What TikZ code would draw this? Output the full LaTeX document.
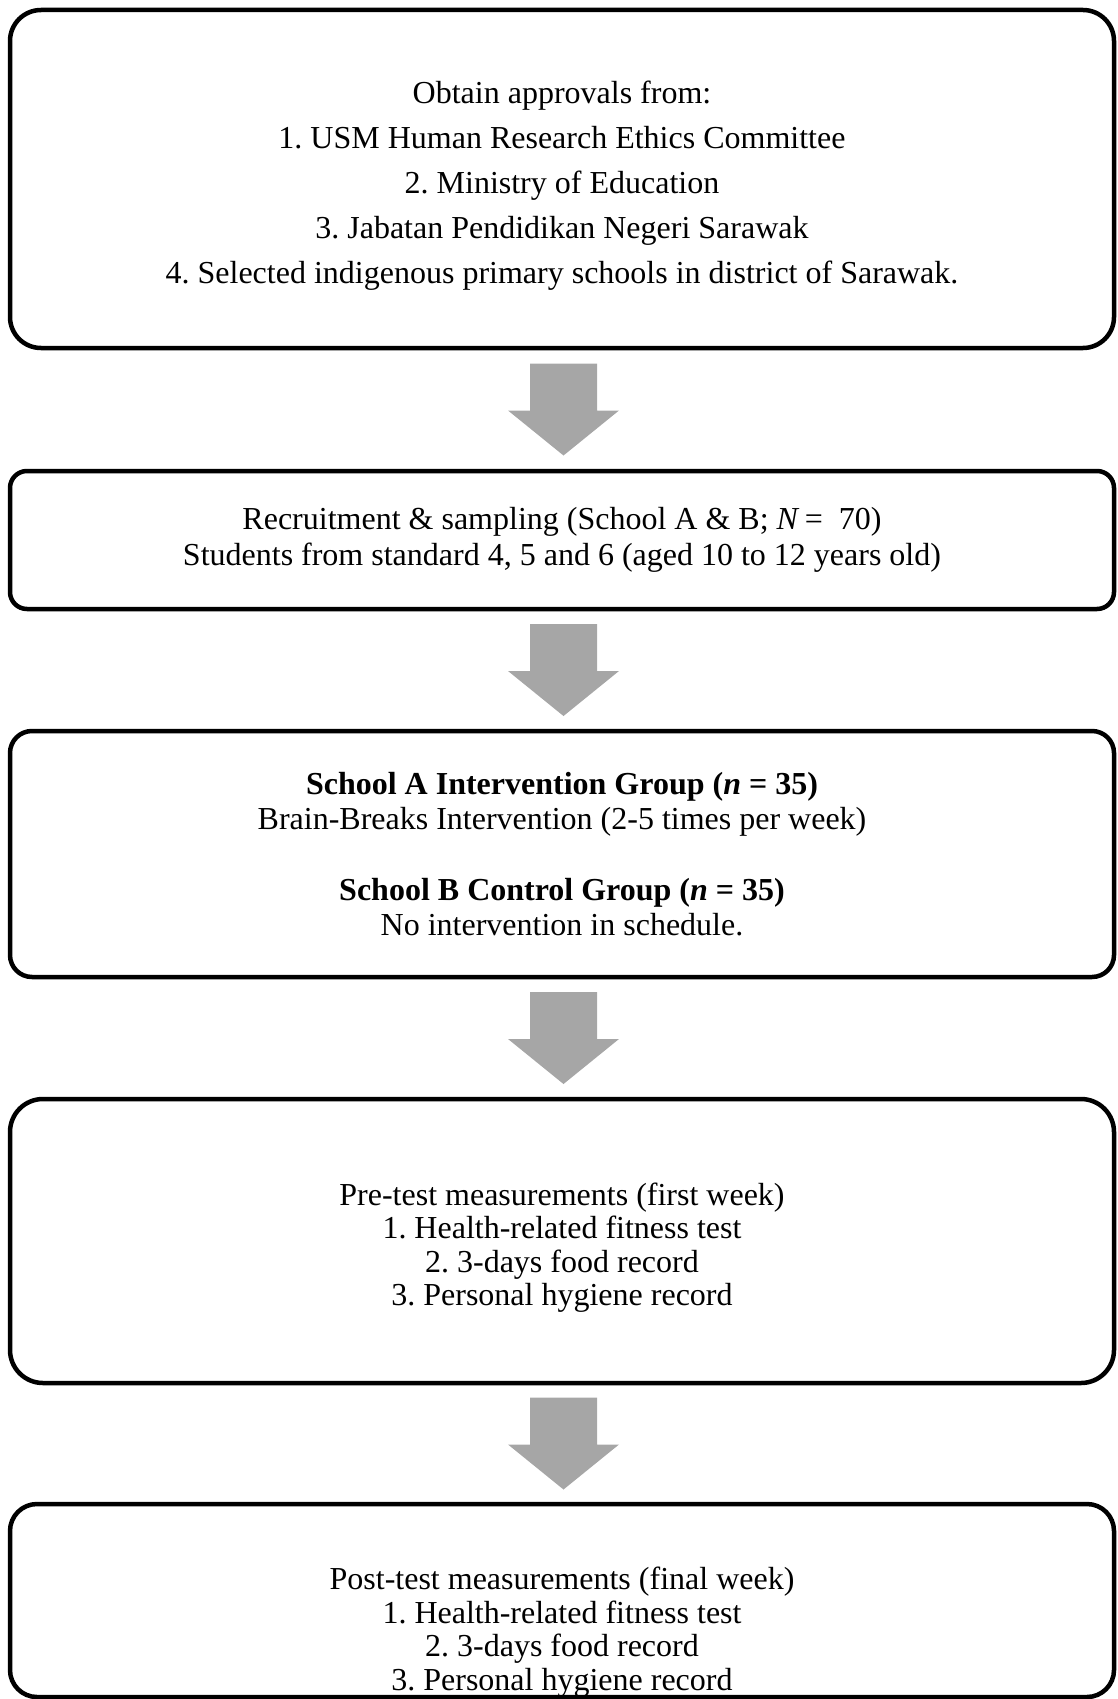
\documentclass[tikz,border=0pt]{standalone}
\usepackage{fontspec}
\setmainfont{Liberation Serif}
\frenchspacing
\usetikzlibrary{positioning,calc}

\begin{document}
\begin{tikzpicture}[x=1pt,y=-1pt]

\tikzset{
    stagebox/.style={draw, line width=4.5pt, inner sep=0pt, outer sep=0pt, align=center,
        minimum width=1104pt, font={\fontsize{32}{35.5}\selectfont}},
    bigarrow/.style={fill=black!35}
}
\useasboundingbox (0,0) rectangle (1117,1699);
\node[stagebox, rounded corners=31pt, minimum height=338pt, font={\fontsize{32}{45}\selectfont}] (approvals) at (562,179)
    {\rule{0pt}{35pt}Obtain approvals from:\\ 1. USM Human Research Ethics Committee\\ 2. Ministry of Education\\
     3. Jabatan Pendidikan Negeri Sarawak\\ 4. Selected indigenous primary schools in district of Sarawak.};
\node[stagebox, rounded corners=17pt, minimum height=138pt, below=123pt of approvals] (recruit)
    {Recruitment \& sampling (School A \& B; \textit{N}\,=\ \ 70)\\
     Students from standard 4, 5 and 6 (aged 10 to 12 years old)};
\node[stagebox, rounded corners=22pt, minimum height=246pt, below=122pt of recruit] (groups)
    {\textbf{School A Intervention Group (\textit{n} = 35)}\\ Brain-Breaks Intervention (2-5 times per week)\\[35pt]
     \textbf{School B Control Group (\textit{n} = 35)}\\ No intervention in schedule.};
\node[stagebox, rounded corners=33pt, minimum height=284pt, below=122pt of groups, font={\fontsize{32}{33.5}\selectfont}] (pretest)
    {\rule{0pt}{36pt}Pre-test measurements (first week)\\ 1. Health-related fitness test\\ 2. 3-days food record\\ 3. Personal hygiene record};
\node[stagebox, rounded corners=27pt, text height=186pt, text depth=7pt, below=121pt of pretest, font={\fontsize{32}{33.5}\selectfont}] (posttest)
    {Post-test measurements (final week)\\ 1. Health-related fitness test\\ 2. 3-days food record\\ 3. Personal hygiene record};

\foreach \a/\b in {approvals/recruit, recruit/groups, groups/pretest, pretest/posttest}
    \fill[bigarrow] ($(\a.south)!0.5!(\b.north)$) ++(-32,-46) -- ++(67,0) -- ++(0,47) -- ++(22,0)
        -- ++(-55.5,45) -- ++(-55.5,-45) -- ++(22,0) -- cycle;
\end{tikzpicture}
\end{document}
